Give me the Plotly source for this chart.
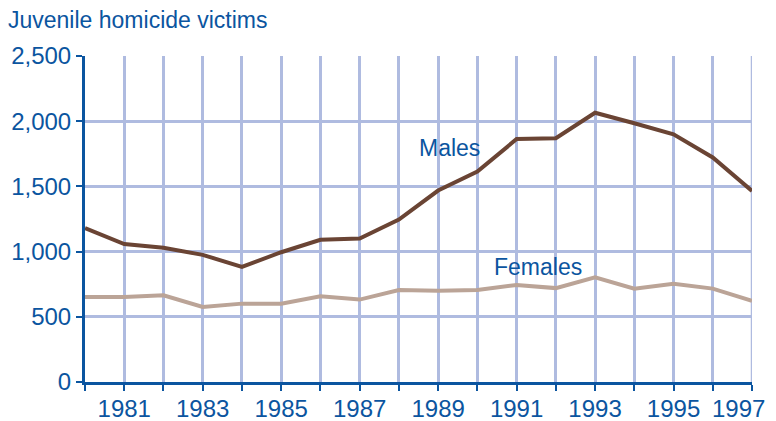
import plotly.graph_objects as go

years = list(range(1980, 1998))
males = [1180, 1058, 1030, 975, 882, 995, 1090, 1100, 1245, 1468, 1613, 1863, 1869, 2065, 1984, 1900, 1722, 1465]
females = [652, 652, 665, 575, 601, 601, 657, 632, 706, 700, 706, 744, 720, 803, 716, 754, 716, 622]
x_ticktext = [str(y) if (y % 2 == 1 and y != years[-1]) else "" for y in years]
last_label = str(years[-1])
y_ticks = [0, 500, 1000, 1500, 2000, 2500]
y_ticktext = ["0", "500", "1,000", "1,500", "2,000", "2,500"]

blue = "#0b55a0"
grid = "#afbbe0"
font = "Liberation Sans, Arial, sans-serif"

W, H = 760, 413

fig = go.Figure()
fig.add_trace(go.Scatter(x=years, y=females, mode="lines", line=dict(color="#bba497", width=4), cliponaxis=False))
fig.add_trace(go.Scatter(x=years, y=males, mode="lines", line=dict(color="#6a4434", width=4), cliponaxis=False))

fig.add_annotation(x=1989.29, y=1794, text="Males", showarrow=False, font=dict(family=font, size=23, color=blue), xanchor="center", yanchor="middle")
fig.add_annotation(x=1991.54, y=882, text="Females", showarrow=False, font=dict(family=font, size=23, color=blue), xanchor="center", yanchor="middle")
# last x tick label, kept inside the visible page
fig.add_annotation(x=1, xref="paper", y=0, yref="paper", text=last_label, showarrow=False,
                   xanchor="right", yanchor="middle", xshift=15, yshift=-26,
                   font=dict(family=font, size=24, color=blue))

fig.update_layout(
    width=W, height=H,
    margin=dict(l=77, r=W - 744, t=48, b=H - 374, autoexpand=False),
    plot_bgcolor="white", paper_bgcolor="white",
    showlegend=False,
    font=dict(family=font, color=blue),
    title=dict(text="Juvenile homicide victims", x=0, xanchor="left", xref="container", y=1 - 12 / H, yanchor="middle",
               pad=dict(l=0, r=0, t=0, b=0),
               font=dict(family=font, size=23, color=blue)),
    xaxis=dict(range=[1980, 1997], tickvals=years, ticktext=x_ticktext, showgrid=True, gridcolor=grid, gridwidth=2.5,
               showline=True, linecolor=blue, linewidth=3, ticks="outside", ticklen=6, tickcolor=blue, tickwidth=1.5,
               tickfont=dict(size=24, family=font, color=blue), zeroline=False, automargin=False,
               ticklabeloverflow="allow", ticklabelstandoff=-3),
    yaxis=dict(range=[0, 2500], tickvals=y_ticks, ticktext=y_ticktext, showgrid=True, gridcolor=grid, gridwidth=2.5,
               showline=True, linecolor=blue, linewidth=3, ticks="outside", ticklen=6, tickcolor=blue, tickwidth=1.5,
               tickfont=dict(size=24, family=font, color=blue), zeroline=False, automargin=False),
)
fig.add_shape(type="line", xref="x", yref="y", x0=1997, x1=1997, y0=0, y1=2500, line=dict(color=grid, width=2.5), layer="below")
fig.write_html("out.html")
